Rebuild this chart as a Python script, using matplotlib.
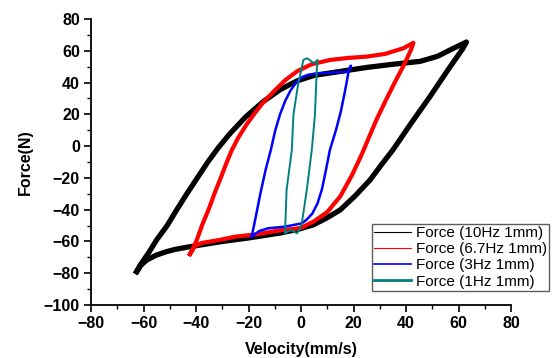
import matplotlib
matplotlib.use("Agg")
import matplotlib.pyplot as plt
from matplotlib.ticker import MultipleLocator

plt.rcParams['font.family'] = ['Liberation Sans', 'DejaVu Sans']

# 10Hz loop: steep rise, top band, right descent, bottom band
v_10hz = [-62.6, -61.3, -58, -55, -51, -47.4, -43.5, -39.7, -35.5, -31.5, -27, -21, -14.4, -8, -1.6,
          5, 15, 25, 35, 45.3, 52, 56.8, 60.5, 63,
          61.5, 56, 49.1, 42, 35, 30.5, 26.3, 20.5, 14.9, 9.5, 4.6, -1, -8,
          -20, -30, -42.3, -48, -51.2, -55, -58.8, -61, -62.6]
f_10hz = [-79, -75, -67, -59, -50, -40.2, -30, -20.5, -10, -1, 8, 18.5, 28, 35.5, 41,
          44.5, 47, 49.5, 51.5, 53.3, 56.5, 60.5, 63.5, 65.5,
          61, 48, 31.1, 14.5, -2.4, -12, -21.3, -31.5, -40.2, -45.5, -49.6, -52.3, -54.7,
          -57.8, -60, -63.3, -65, -66.4, -68.5, -71.7, -75, -79]

# 6.7Hz loop
v_6hz = [-42.3, -41, -39.7, -37.5, -35, -33, -30.9, -28.5, -26.5, -24, -21, -17.5, -14.4, -10, -6, -1.6,
         4, 11, 18, 25, 32, 39, 42.8,
         42, 39.5, 36, 32.5, 29, 26, 23.2, 19.5, 15, 10, 4.7, -0.4, -8,
         -17, -25.1, -30.9, -38, -40.5, -42.3]
f_6hz = [-68, -64, -59, -49, -39, -30, -21.3, -11, -3, 5, 13, 21, 27.5, 35, 41.5, 47,
         51.5, 54.2, 55.5, 56.3, 58, 61.6, 65,
         61, 52, 41, 29.5, 17.5, 6, -5, -18, -31.5, -41.5, -47.6, -51.7, -53,
         -55.5, -57, -59, -61, -63, -68]

# 3Hz loop
v_3hz = [-18.8, -17.3, -15.5, -13.5, -11.5, -9.8, -8, -6, -4, -1.6, 0.5, 3, 6.6, 12, 18, 19,
         18.2, 16.8, 15.2, 13.3, 11, 9.5, 8, 6.3, 4.3, 2, 0.3, -6.1, -12.5, -16, -18.8]
f_3hz = [-57, -45, -30, -15, -2.4, 10, 20, 28.5, 35, 40.5, 43.5, 45, 45.8, 46.3, 46.8, 50.6,
         47.5, 35, 22, 10, -2.4, -15, -27, -36, -42.5, -46.5, -48.6, -50.7, -51.7, -53.5, -57]

# 1Hz loop
v_1hz = [-6.1, -5.5, -3.5, -2.9, -1.2, 0.9, 2.2, 3.5, 4.7, 5.5, 6.3,
         6, 5.3, 4.1, 2.2, 0.3, -0.5, -1.6, -2.5, -3.5, -4.8, -6.1]
f_1hz = [-54.9, -27.6, -2.4, 19.6, 38, 54.2, 55.3, 54, 52.1, 53, 54.2,
         48, 19.6, -2.4, -27.6, -48.6, -52.5, -54.9, -54, -52.8, -53.5, -54.9]

labels = ['Force (10Hz 1mm)', 'Force (6.7Hz 1mm)', 'Force (3Hz 1mm)', 'Force (1Hz 1mm)']
colors = ['black', 'red', 'blue', '#008080']

fig = plt.figure(figsize=(5.56, 3.58), dpi=100)
ax = fig.add_axes([0.1637, 0.148, 0.7554, 0.799])

ax.plot(v_10hz, f_10hz, color=colors[0], lw=3.8, solid_joinstyle='round')
ax.plot(v_6hz, f_6hz, color=colors[1], lw=3.0, solid_joinstyle='round')
ax.plot(v_3hz, f_3hz, color=colors[2], lw=1.8, solid_joinstyle='round')
ax.plot(v_1hz, f_1hz, color=colors[3], lw=1.4, solid_joinstyle='round')

# legend handles use thinner lines like the original
handles = []
for c, lab, w in zip(colors, labels, [0.8, 0.8, 1.2, 2.0]):
    h, = ax.plot([], [], color=c, lw=w, label=lab)
    handles.append(h)

ax.set_xlim(-80, 80)
ax.set_ylim(-100, 80)
ax.xaxis.set_major_locator(MultipleLocator(20))
ax.xaxis.set_minor_locator(MultipleLocator(10))
ax.yaxis.set_major_locator(MultipleLocator(20))
ax.yaxis.set_minor_locator(MultipleLocator(10))
ax.tick_params(which='major', direction='out', length=5, width=1.2, labelsize=11.5, pad=3)
ax.tick_params(which='minor', direction='out', length=3, width=1.0)
for lab in ax.get_xticklabels() + ax.get_yticklabels():
    lab.set_fontweight('bold')
ax.spines['top'].set_visible(False)
ax.spines['right'].set_visible(False)
ax.spines['left'].set_linewidth(1.3)
ax.spines['bottom'].set_linewidth(1.3)

ax.set_xlabel('Velocity(mm/s)', fontsize=11.5, fontweight='bold', labelpad=8)
ax.set_ylabel('Force(N)', fontsize=11.5, fontweight='bold', labelpad=8)

leg = ax.legend(handles=handles, loc='lower left', bbox_to_anchor=(0.669, 0.187),
                bbox_transform=fig.transFigure, borderaxespad=0, fontsize=11,
                frameon=True, fancybox=False, handlelength=2.4, labelspacing=0.15,
                handletextpad=0.3, borderpad=0.15)
leg.get_frame().set_edgecolor('#333333')
leg.get_frame().set_linewidth(1.0)

fig.savefig('out.png', dpi=100)
